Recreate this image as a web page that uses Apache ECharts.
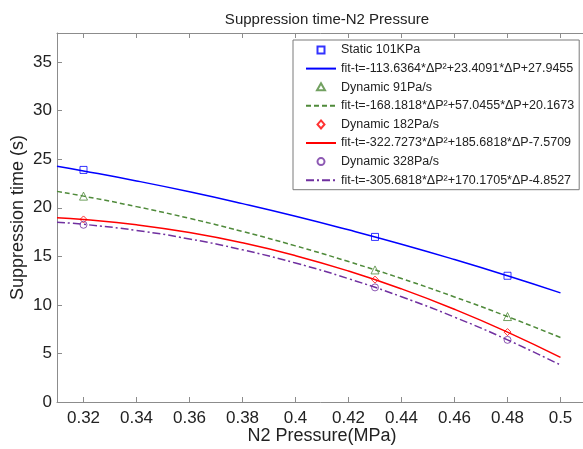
<!DOCTYPE html>
<html>
<head>
<meta charset="utf-8">
<script src="https://cdn.jsdelivr.net/npm/echarts@6/dist/echarts.min.js"></script>
<style>
  html, body { margin: 0; padding: 0; background: #fff; }
  #main { width: 583px; height: 449px; }
</style>
</head>
<body>
<div id="main"></div>
<script>
// measured points
var xData = [0.32, 0.43, 0.48];
var staticPts = [23.9, 17.0, 13.0];
var dyn91Pts = [21.2, 13.6, 8.8];
var dyn182Pts = [18.8, 12.6, 7.2];
var dyn328Pts = [18.25, 11.8, 6.4];

// fitted curves
var xFit = [0.31, 0.32, 0.34, 0.36, 0.38, 0.40, 0.42, 0.44, 0.46, 0.48, 0.50];
var staticFit = [24.28, 23.80, 22.77, 21.65, 20.43, 19.13, 17.73, 16.25, 14.67, 13.00, 11.24];
var dyn91Fit = [21.69, 21.20, 20.12, 18.91, 17.56, 16.08, 14.46, 12.71, 10.82, 8.80, 6.64];
var dyn182Fit = [18.98, 18.80, 18.25, 17.45, 16.39, 15.07, 13.49, 11.65, 9.55, 7.20, 4.59];
var dyn328Fit = [18.52, 18.30, 17.67, 16.79, 15.67, 14.31, 12.70, 10.84, 8.74, 6.40, 3.81];

var xTicks = [0.32, 0.34, 0.36, 0.38, 0.4, 0.42, 0.44, 0.46, 0.48, 0.5];
var yTicks = [0, 5, 10, 15, 20, 25, 30, 35];

var names = [
  "Static 101KPa",
  "fit-t=-113.6364*ΔP²+23.4091*ΔP+27.9455",
  "Dynamic 91Pa/s",
  "fit-t=-168.1818*ΔP²+57.0455*ΔP+20.1673",
  "Dynamic 182Pa/s",
  "fit-t=-322.7273*ΔP²+185.6818*ΔP-7.5709",
  "Dynamic 328Pa/s",
  "fit-t=-305.6818*ΔP²+170.1705*ΔP-4.8527"
];

// legend marker shapes, padded to the 30x14 legend slot so they keep a small size
var pad = "M0,0 M30,14 ";
var legendIcons = {
  rect: "path://" + pad + "M11.5,3.5 L18.5,3.5 L18.5,10.5 L11.5,10.5 Z",
  triangle: "path://" + pad + "M15,3 L19,10 L11,10 Z",
  diamond: "path://" + pad + "M15,3 L18.5,7 L15,11 L11.5,7 Z",
  circle: "path://" + pad + "M18.5,7 A3.5,3.5 0 1 1 11.5,7 A3.5,3.5 0 1 1 18.5,7 Z"
};

function pairs(xs, ys) {
  var out = [];
  for (var i = 0; i < xs.length; i++) out.push([xs[i], ys[i]]);
  return out;
}

var axisGray = "#8c8c8c";
var font = "Liberation Sans, Arial, sans-serif";

function scatter(name, ys, symbol, color) {
  return {
    name: name,
    type: "scatter",
    data: pairs(xData, ys),
    symbol: symbol,
    symbolSize: symbol === "triangle" ? 8 : 7,
    itemStyle: { color: "rgba(0,0,0,0)", borderColor: color, borderWidth: 1 },
    z: 5
  };
}

function fitLine(name, ys, color, type) {
  return {
    name: name,
    type: "line",
    data: pairs(xFit, ys),
    smooth: true,
    symbol: "none",
    lineStyle: { color: color, width: 1.5, type: type },
    itemStyle: { color: color }
  };
}

var legendData = [
  { name: names[0], icon: legendIcons.rect },
  { name: names[1], itemStyle: { color: "rgba(0,0,0,0)", borderWidth: 0 } },
  { name: names[2], icon: legendIcons.triangle },
  { name: names[3], itemStyle: { color: "rgba(0,0,0,0)", borderWidth: 0 } },
  { name: names[4], icon: legendIcons.diamond },
  { name: names[5], itemStyle: { color: "rgba(0,0,0,0)", borderWidth: 0 } },
  { name: names[6], icon: legendIcons.circle },
  { name: names[7], itemStyle: { color: "rgba(0,0,0,0)", borderWidth: 0 } }
];

var chart = echarts.init(document.getElementById("main"));
chart.setOption({
  backgroundColor: "#fff",
  animation: false,
  textStyle: { fontFamily: font },
  title: {
    text: "Suppression time-N2 Pressure",
    left: 322,
    top: 7,
    textAlign: "center",
    textStyle: { fontSize: 15, fontWeight: "normal", color: "#222", fontFamily: font }
  },
  grid: { left: 57, right: -4, top: 33, bottom: 47, containLabel: false, outerBoundsMode: "none" },
  legend: {
    orient: "vertical",
    left: 293,
    top: 40,
    itemWidth: 30,
    itemHeight: 14,
    itemGap: 4.1,
    padding: [2, 5, 3, 12],
    backgroundColor: "#fff",
    borderColor: "#7a7a7a",
    borderWidth: 1,
    textStyle: { fontSize: 12.5, color: "#222", fontFamily: font },
    data: legendData
  },
  xAxis: [
    {
      type: "value",
      min: 0.31,
      max: 0.51,
      name: "N2 Pressure(MPa)",
      nameLocation: "middle",
      nameGap: 25,
      nameMoveOverlap: false,
      nameTextStyle: { fontSize: 18, color: "#222", fontFamily: font },
      axisLine: { lineStyle: { color: axisGray } },
      axisTick: { inside: true, length: 5, customValues: xTicks, lineStyle: { color: axisGray } },
      axisLabel: { customValues: xTicks, fontSize: 17, color: "#222", margin: 8 },
      splitLine: { show: false }
    },
    {
      type: "value",
      position: "top",
      min: 0.31,
      max: 0.51,
      axisLine: { lineStyle: { color: axisGray } },
      axisTick: { inside: true, length: 5, customValues: xTicks, lineStyle: { color: axisGray } },
      axisLabel: { show: false },
      splitLine: { show: false }
    }
  ],
  yAxis: [
    {
      type: "value",
      min: 0,
      max: 38,
      name: "Suppression time (s)",
      nameLocation: "middle",
      nameGap: 30,
      nameMoveOverlap: false,
      nameTextStyle: { fontSize: 18, color: "#222", fontFamily: font },
      axisLine: { show: true, lineStyle: { color: axisGray } },
      axisTick: { show: true, inside: true, length: 5, customValues: yTicks, lineStyle: { color: axisGray } },
      axisLabel: { customValues: yTicks, fontSize: 17, color: "#222", margin: 5 },
      splitLine: { show: false }
    }
  ],
  series: [
    scatter(names[0], staticPts, "rect", "#0000ff"),
    fitLine(names[1], staticFit, "#0000ff", "solid"),
    scatter(names[2], dyn91Pts, "triangle", "#4f8a3a"),
    fitLine(names[3], dyn91Fit, "#4f8a3a", [5, 3]),
    scatter(names[4], dyn182Pts, "diamond", "#ff0000"),
    fitLine(names[5], dyn182Fit, "#ff0000", "solid"),
    scatter(names[6], dyn328Pts, "circle", "#7030a0"),
    fitLine(names[7], dyn328Fit, "#7030a0", [8, 3, 2, 3])
  ]
});
</script>
</body>
</html>
